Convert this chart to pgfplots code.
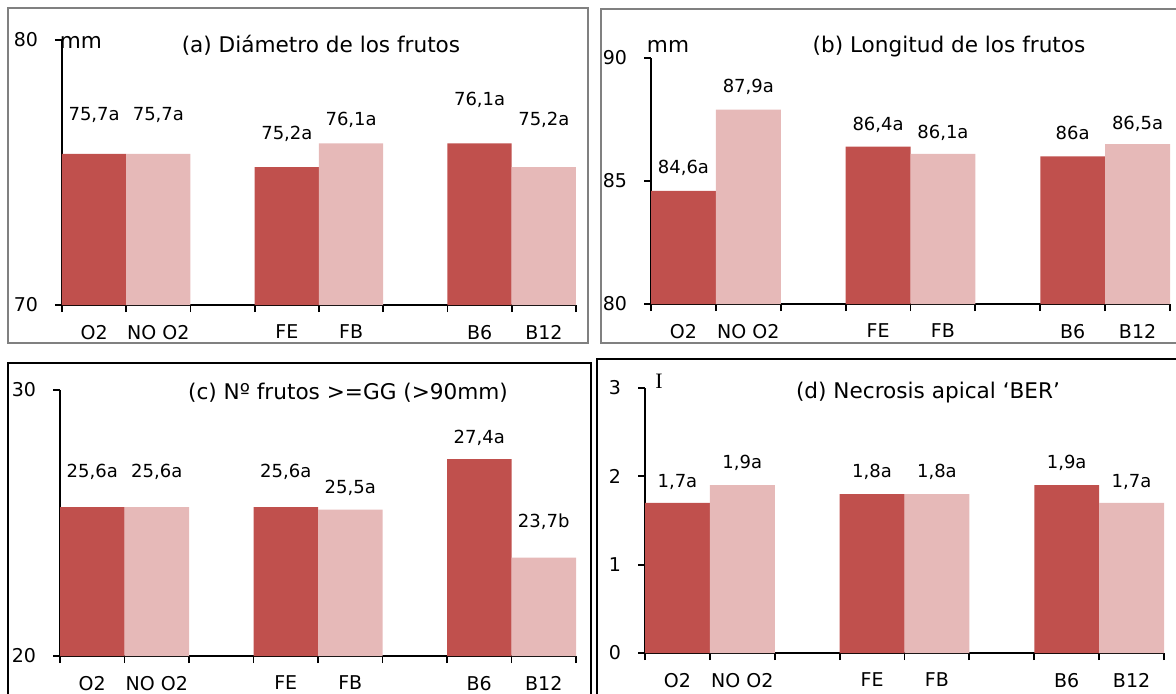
\documentclass[border=0pt]{standalone}
\usepackage{fontspec}
\setmainfont{DejaVu Sans}
\newfontfamily\serif{Liberation Serif}
\usepackage{pgfplots}
\pgfplotsset{compat=1.18}
\definecolor{darkbar}{HTML}{C0504D}
\definecolor{lightbar}{HTML}{E6B9B8}
\definecolor{framegray}{HTML}{808080}
\pgfplotsset{
  mybars/.style={
    scale only axis,
    anchor=south west,
    axis x line=bottom,
    axis y line=left,
    axis line style={-,black,line width=0.9pt},
    xmin=-0.5, xmax=7.5,
    xtick={-0.5,0.5,1.5,2.5,3.5,4.5,5.5,6.5,7.5},
    xticklabels={},
    extra x ticks={0,1,3,4,6,7},
    extra x tick labels={O2,NO O2,FE,FB,B6,B12},
    extra x tick style={tick style={draw=none}, xticklabel style={yshift=-3pt}},
    tick style={black,line width=0.9pt},
    tick align=outside,
    major tick length=3.5pt,
    ticklabel style={font=\fontsize{9.5}{11}\selectfont},
    yticklabel style={xshift=-5pt},
    /pgf/number format/assume math mode=true,
    clip=true,
  },
  darkp/.style={ybar, bar width=1, bar shift=0pt, fill=darkbar, draw=none},
  lightp/.style={ybar, bar width=1, bar shift=0pt, fill=lightbar, draw=none},
}
\newcommand{\vl}{\fontsize{9}{10}\selectfont}
\newcommand{\tl}{\fontsize{10.8}{12}\selectfont}
\begin{document}
\begin{tikzpicture}[x=0.5pt,y=0.5pt]
\useasboundingbox (0,0) rectangle (1176,693);
% frames
\draw[framegray,line width=0.6pt] (8,685) rectangle (588,350);
\draw[framegray,line width=0.6pt] (1180,350) -- (601,350) -- (601,684) -- (1180,684);
\draw[black,line width=0.6pt] (8,-5) -- (8,330) -- (591,330) -- (591,-5);
\draw[black,line width=0.6pt] (597,-5) -- (597,334) -- (1180,334);
% titles
\node[font=\tl] at (321,648) {(a) Diámetro de los frutos};
\node[font=\tl] at (949,646) {(b) Longitud de los frutos};
\node[font=\tl] at (348,300) {(c) Nº frutos >=GG (>90mm)};
\node[font=\tl] at (928,300) {(d) Necrosis apical ‘BER’};
\node[font=\tl] at (81,651) {mm};
\node[font=\tl] at (668,647) {mm};
\node[font={\serif\fontsize{11}{12}\selectfont}] at (659,312) {I};

% (a)
\begin{axis}[mybars, at={(31pt,194pt)}, width=257pt, height=132.5pt,
  ymin=70, ymax=80, ytick={70,80}]
\addplot[darkp] coordinates {(0,75.7) (3,75.2) (6,76.1)};
\addplot[lightp] coordinates {(1,75.7) (4,76.1) (7,75.2)};
\node[font=\vl] at (axis cs:0,77.17) {75,7a};
\node[font=\vl] at (axis cs:1,77.17) {75,7a};
\node[font=\vl] at (axis cs:3,76.45) {75,2a};
\node[font=\vl] at (axis cs:4,76.98) {76,1a};
\node[font=\vl] at (axis cs:6,77.74) {76,1a};
\node[font=\vl] at (axis cs:7,76.98) {75,2a};
\end{axis}

% (b)
\begin{axis}[mybars, at={(325.5pt,194.5pt)}, width=259.5pt, height=123pt,
  ymin=80, ymax=90, ytick={80,85,90}]
\addplot[darkp] coordinates {(0,84.6) (3,86.4) (6,86.0)};
\addplot[lightp] coordinates {(1,87.9) (4,86.1) (7,86.5)};
\node[font=\vl] at (axis cs:0,85.53) {84,6a};
\node[font=\vl] at (axis cs:1,88.82) {87,9a};
\node[font=\vl] at (axis cs:3,87.28) {86,4a};
\node[font=\vl] at (axis cs:4,86.95) {86,1a};
\node[font=\vl] at (axis cs:6,86.95) {86a};
\node[font=\vl] at (axis cs:7,87.32) {86,5a};
\end{axis}

% (c)
\begin{axis}[mybars, at={(30pt,18.5pt)}, width=258pt, height=133pt,
  ymin=20, ymax=30, ytick={20,30}]
\addplot[darkp] coordinates {(0,25.6) (3,25.6) (6,27.4)};
\addplot[lightp] coordinates {(1,25.6) (4,25.5) (7,23.7)};
\node[font=\vl] at (axis cs:0,26.92) {25,6a};
\node[font=\vl] at (axis cs:1,26.92) {25,6a};
\node[font=\vl] at (axis cs:3,26.92) {25,6a};
\node[font=\vl] at (axis cs:4,26.32) {25,5a};
\node[font=\vl] at (axis cs:6,28.2) {27,4a};
\node[font=\vl] at (axis cs:7,25.04) {23,7b};
\end{axis}

% (d)
\begin{axis}[mybars, at={(322.5pt,20pt)}, width=259.5pt, height=132.5pt,
  ymin=0, ymax=3, ytick={0,1,2,3}]
\addplot[darkp] coordinates {(0,1.7) (3,1.8) (6,1.9)};
\addplot[lightp] coordinates {(1,1.9) (4,1.8) (7,1.7)};
\node[font=\vl] at (axis cs:0,1.94) {1,7a};
\node[font=\vl] at (axis cs:1,2.15) {1,9a};
\node[font=\vl] at (axis cs:3,2.05) {1,8a};
\node[font=\vl] at (axis cs:4,2.05) {1,8a};
\node[font=\vl] at (axis cs:6,2.15) {1,9a};
\node[font=\vl] at (axis cs:7,1.94) {1,7a};
\end{axis}
\end{tikzpicture}
\end{document}
